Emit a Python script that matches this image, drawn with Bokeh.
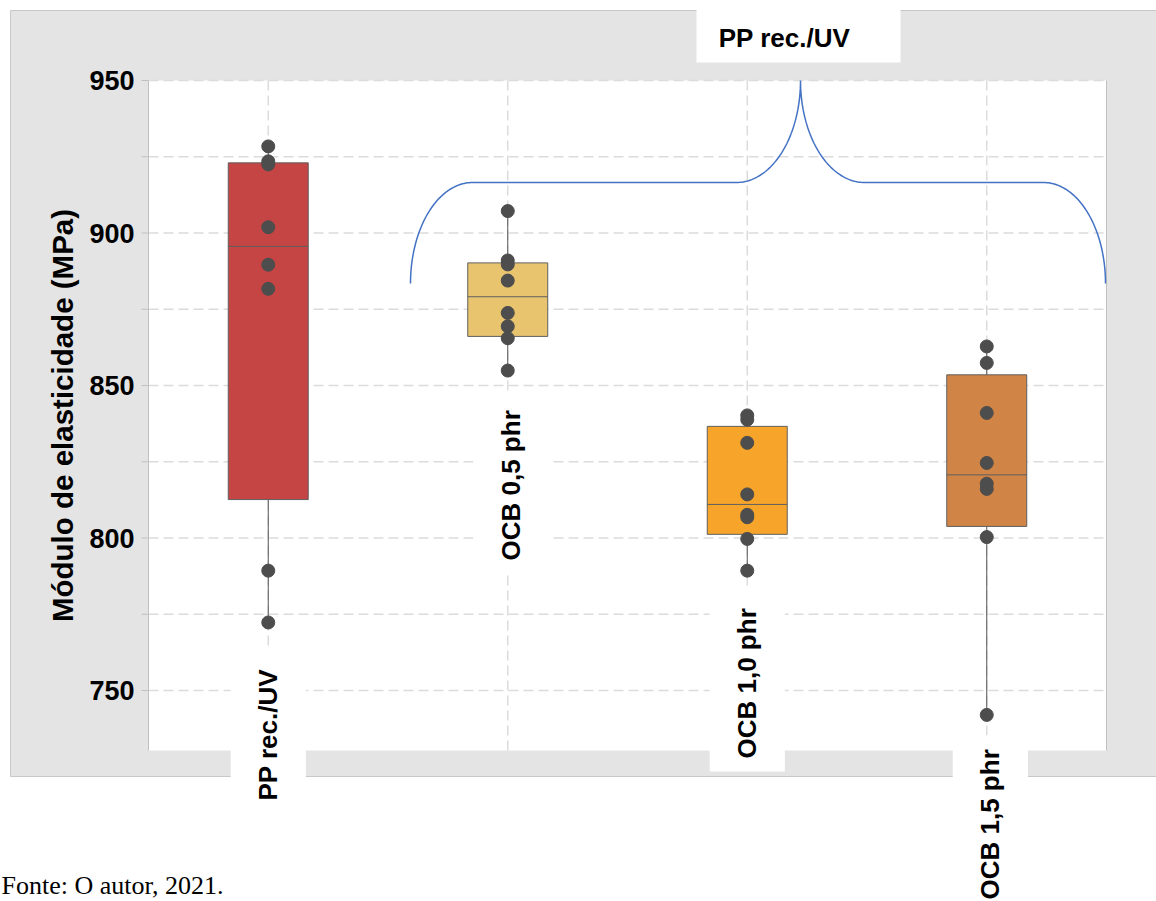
import numpy as np
from bokeh.plotting import figure
from bokeh.models import Range1d
from bokeh.core.properties import value
from bokeh.embed import file_html
from bokeh.resources import INLINE

# ---------------- data ----------------
categories = ["PP rec./UV", "OCB 0,5 phr", "OCB 1,0 phr", "OCB 1,5 phr"]
x_pos = [0.5, 1.5, 2.5, 3.5]

values_pp = [928.4, 923.5, 922.5, 901.9, 889.6, 881.7, 789.3, 772.3]
values_ocb05 = [907.2, 891.0, 889.7, 884.4, 873.8, 869.4, 865.5, 854.9]
values_ocb10 = [840.2, 838.8, 831.2, 814.3, 807.6, 806.8, 799.7, 789.3]
values_ocb15 = [862.8, 857.4, 841.0, 824.6, 817.8, 816.1, 800.3, 742.0]

box_q1 = [812.6, 866.1, 801.2, 803.8]
box_median = [895.6, 879.1, 811.0, 820.7]
box_q3 = [923.0, 890.2, 836.6, 853.5]
whisker_low = [772.3, 854.9, 789.3, 742.0]
whisker_high = [928.4, 907.2, 840.2, 862.8]

box_colors = ["#C44543", "#E8C46F", "#F6A42A", "#D08446"]

y_ticks = [750, 800, 850, 900, 950]
y_minor_ticks = [775, 825, 875, 925]
y_min, y_max = 730.33, 950.0
x_min, x_max = 0.0, 4.0

title_text = "PP rec./UV"
y_label = "Módulo de elasticidade (MPa)"
source_text = "Fonte: O autor, 2021."

# ---------------- layout (page pixels -> data) ----------------
FONT = value("Liberation Sans")
PX_X = 239.5          # pixels per x unit
PX_Y = 3.05           # pixels per MPa
LEFT_PX, TOP_PX = 148, 80
W, H = 1156, 901


def X(px):
    return x_min + (px - LEFT_PX) / PX_X


def Y(py):
    return y_max - (py - TOP_PX) / PX_Y


half_w = 0.167
grid_col = "#dcdcdc"

p = figure(width=W, height=H, x_range=Range1d(X(0), X(W)), y_range=Range1d(Y(H), Y(0)),
           output_backend="svg", toolbar_location=None, title=None,
           x_axis_location=None, y_axis_location=None, min_border=0,
           min_border_left=0, min_border_right=0, min_border_top=0, min_border_bottom=0)
p.grid.visible = False
p.background_fill_color = "white"
p.border_fill_color = "white"
p.outline_line_color = None

# gray outer panel and white plotting area
p.quad(left=X(10), right=X(W + 20), top=Y(10), bottom=Y(776), fill_color="#e4e4e4",
       line_color="#c8c8c8", line_width=1)
p.quad(left=x_min, right=x_max, top=y_max, bottom=y_min, fill_color="white", line_color=None)

# grid lines
all_y = y_ticks + y_minor_ticks
p.segment(x0=[x_min] * len(all_y), x1=[x_max] * len(all_y), y0=all_y, y1=all_y,
          line_color=grid_col, line_dash="10 5", line_width=1.5)
p.segment(x0=x_pos, x1=x_pos, y0=[y_min] * 4, y1=[y_max] * 4,
          line_color=grid_col, line_dash="10 5", line_width=1.5)

# axis lines and ticks
p.segment(x0=[x_min, x_max], x1=[x_min, x_max], y0=[y_min] * 2, y1=[y_max] * 2,
          line_color="#c0c0c0", line_width=1)
p.segment(x0=[X(141)] * len(all_y), x1=[x_min] * len(all_y), y0=all_y, y1=all_y,
          line_color="#c0c0c0", line_width=1)
p.text(x=[x_min] * len(y_ticks), y=y_ticks, text=[str(t) for t in y_ticks], x_offset=-14,
       text_font=FONT, text_font_style="bold", text_font_size="27px", text_color="black",
       text_align="right", text_baseline="middle")
p.text(x=[X(62)], y=[(y_min + y_max) / 2], text=[y_label], angle=np.pi / 2,
       text_font=FONT, text_font_style="bold", text_font_size="29.5px", text_color="black",
       text_align="center", text_baseline="middle")

# ---------------- box plots ----------------
p.segment(x0=x_pos, y0=whisker_low, x1=x_pos, y1=whisker_high, line_color="#555555", line_width=1)
left = [x - half_w for x in x_pos]
right = [x + half_w for x in x_pos]
p.quad(left=left, right=right, bottom=box_q1, top=box_q3, fill_color=box_colors,
       line_color="#5f5f5f", line_width=1)
p.segment(x0=left, y0=box_median, x1=right, y1=box_median, line_color="#5f5f5f", line_width=1)

all_vals = [values_pp, values_ocb05, values_ocb10, values_ocb15]
px, py = [], []
for x, vals in zip(x_pos, all_vals):
    px += [x] * len(vals)
    py += vals
p.scatter(px, py, size=13, color="#4d4d4d")

# ---------------- curly brace ----------------
bL, bR, bM = X(410), X(1105), X(800)      # ends and tip (x)
bT, bF, bE = Y(80), Y(182), Y(283)        # tip, flat, end (y)
r1, r2 = 62 / PX_X, 64 / PX_X
t = np.linspace(0, np.pi / 2, 60)
xs = np.concatenate([bL + r1 * (1 - np.cos(t)),
                     bM - r2 + r2 * np.sin(t),
                     bM + r2 - r2 * np.cos(t),
                     bR - r1 + r1 * np.sin(t)])
ys = np.concatenate([bE + (bF - bE) * np.sin(t),
                     bT - (bT - bF) * np.cos(t),
                     bT - (bT - bF) * np.sin(t),
                     bE + (bF - bE) * np.cos(t)])
p.line(xs, ys, line_color="#4472C4", line_width=1.5)

# ---------------- category labels with white boxes ----------------
label_dx = [0.0, 0.014, 0.0, 0.015]
label_start_px = [800, 560, 758, 899]
box_top_px = [648, 391, 588, 735]
box_bottom_px = [815, 573, 771, 915]
lx = [x + d for x, d in zip(x_pos, label_dx)]
p.quad(left=[x - 0.157 for x in lx], right=[x + 0.157 for x in lx],
       top=[Y(v) for v in box_top_px], bottom=[Y(v) for v in box_bottom_px],
       fill_color="white", line_color=None)
p.text(x=lx, y=[Y(v) for v in label_start_px], text=categories, angle=np.pi / 2,
       text_font=FONT, text_font_style="bold", text_font_size="26px", text_color="black",
       text_align="left", text_baseline="middle")

# ---------------- title ----------------
p.quad(left=X(696), right=X(900), top=Y(9.5), bottom=Y(62), fill_color="white", line_color=None)
p.text(x=[X(784)], y=[Y(37)], text=[title_text],
       text_font=FONT, text_font_style="bold", text_font_size="26px", text_color="black",
       text_align="center", text_baseline="middle")

# ---------------- source ----------------
p.text(x=[X(1)], y=[Y(885)], text=[source_text],
       text_font=value("Liberation Serif"), text_font_size="26px", text_color="black",
       text_align="left", text_baseline="middle")

open("out.html", "w").write(file_html(p, INLINE))
